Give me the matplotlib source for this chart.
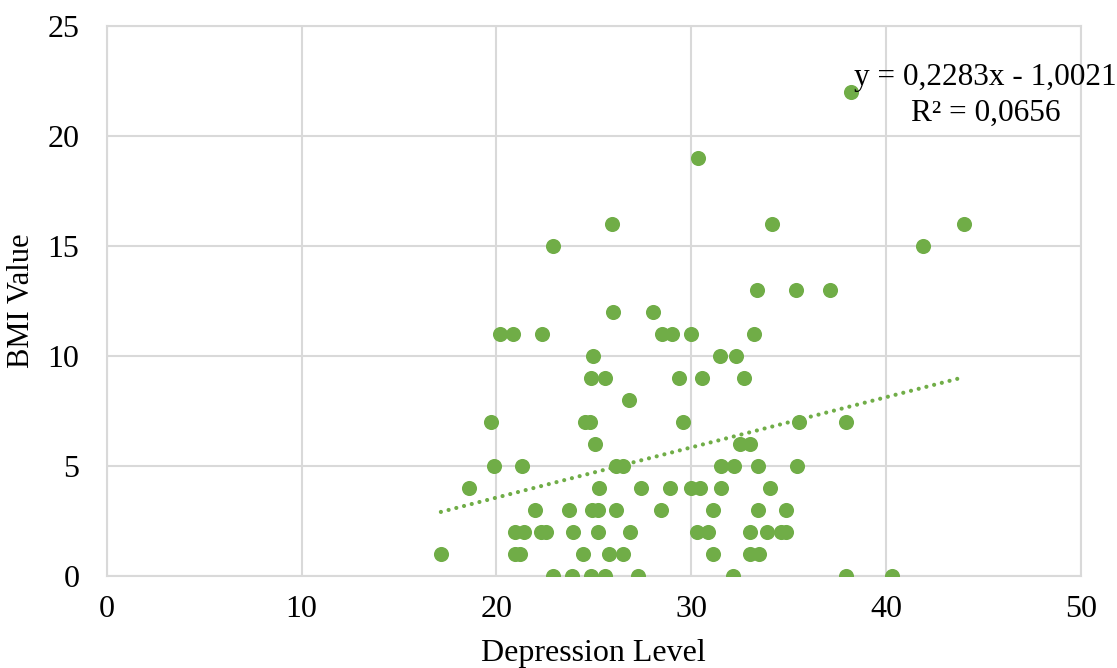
import matplotlib
matplotlib.use("Agg")
import matplotlib.pyplot as plt
import numpy as np

# depression level (x) grouped by BMI value (y)
bmi_rows = {
    0: [22.9, 23.9, 24.85, 25.55, 27.25, 32.15, 37.95, 40.3],
    1: [17.15, 20.95, 21.2, 24.45, 25.8, 26.5, 31.1, 33.0, 33.5],
    2: [20.95, 21.4, 22.3, 22.55, 23.95, 25.2, 26.85, 30.3, 30.85, 33.0, 33.9, 34.6, 34.85],
    3: [22.0, 23.75, 24.9, 25.2, 26.15, 28.45, 31.1, 33.4, 34.85],
    4: [18.6, 25.25, 27.4, 28.9, 30.0, 30.45, 31.55, 34.05],
    5: [19.9, 21.3, 26.15, 26.5, 31.5, 32.2, 33.4, 35.4],
    6: [25.05, 32.5, 33.0],
    7: [19.7, 24.55, 24.8, 29.6, 35.55, 37.95],
    8: [26.8],
    9: [24.85, 25.55, 29.35, 30.55, 32.7],
    10: [24.95, 31.45, 32.3],
    11: [20.2, 20.85, 22.35, 28.5, 29.0, 30.0, 33.2],
    12: [26.0, 28.05],
    13: [33.35, 35.35, 37.1],
    15: [22.9, 41.9],
    16: [25.95, 34.15, 44.0],
    19: [30.35],
    22: [38.2],
}
depression = []
bmi = []
for val, xs in bmi_rows.items():
    for xv in xs:
        depression.append(xv)
        bmi.append(val)
depression = np.array(depression)
bmi = np.array(bmi)

# trendline as reported on the chart
slope = 0.2283
intercept = -1.0021
r2 = 0.0656

green = '#70AD47'
grid = '#D9D9D9'

plt.rcParams['font.family'] = ['Liberation Serif', 'DejaVu Serif']

fig = plt.figure(figsize=(11.17, 6.68), dpi=100)
ax = fig.add_axes([0.0955, 0.1377, 0.8723, 0.8233])

ax.scatter(depression, bmi, s=118, color=green, zorder=3, linewidths=0)

xt = np.array([depression.min(), depression.max()])
ax.plot(xt, slope * xt + intercept, color=green, lw=3.0,
        linestyle=(0, (0.01, 1.9)), dash_capstyle='round', zorder=2)

ax.set_xlim(0, 50)
ax.set_ylim(0, 25)
ax.set_xticks(np.arange(0, 51, 10))
ax.set_yticks(np.arange(0, 26, 5))
ax.grid(True, color=grid, lw=1.5, zorder=0)
ax.set_axisbelow(True)
for sp in ax.spines.values():
    sp.set_color(grid)
    sp.set_linewidth(1.5)
ax.tick_params(length=0, labelsize=23, pad=14)
ax.tick_params(axis='y', pad=19.5)

ax.set_xlabel("Depression Level", fontsize=23)
ax.xaxis.set_label_coords(0.5, -0.115)
ax.set_ylabel("BMI Value", fontsize=22)
ax.yaxis.set_label_coords(-0.073, 0.5)

eq = "y = 0,2283x - 1,0021\nR\u00b2 = 0,0656"
ax.text(45.1, 21.85, eq, fontsize=22.5, ha='center', va='center',
        multialignment='center', linespacing=1.3)

fig.savefig("out.png", dpi=100)
